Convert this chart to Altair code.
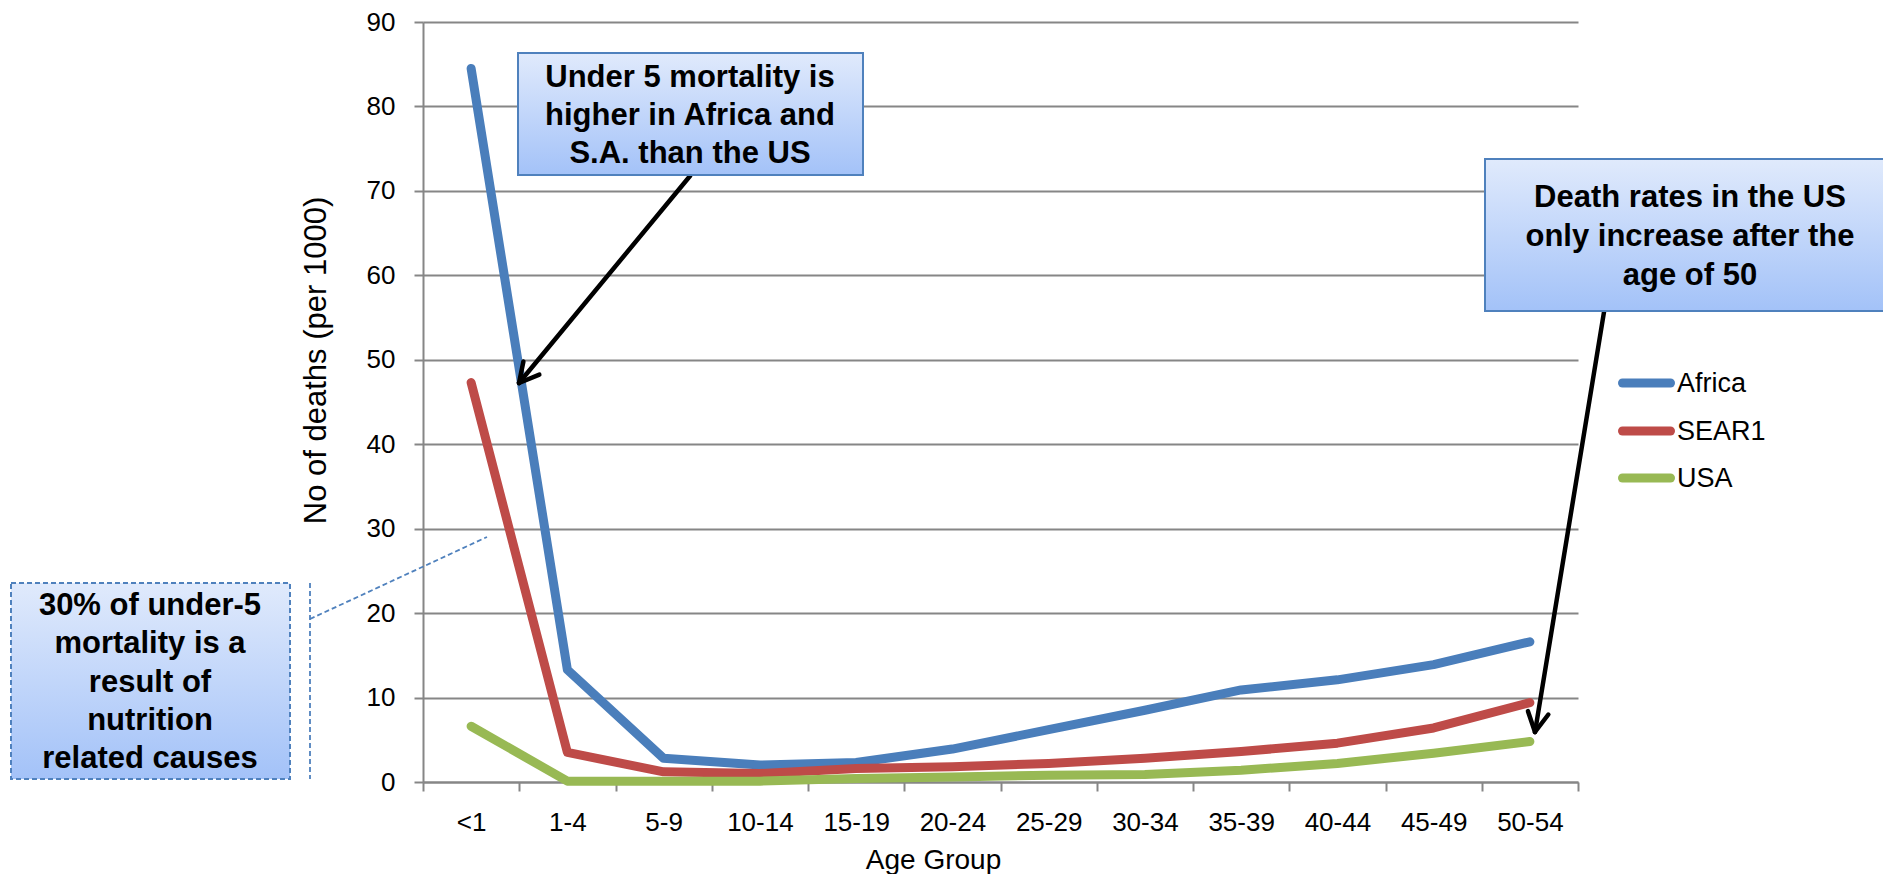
import math
import altair as alt
import pandas as pd

# ---------------- data ----------------
age_groups = ["<1", "1-4", "5-9", "10-14", "15-19", "20-24", "25-29",
              "30-34", "35-39", "40-44", "45-49", "50-54"]
africa = [84.5, 13.3, 2.8, 2.0, 2.3, 3.9, 6.2, 8.5, 10.9, 12.1, 13.9, 16.6]
sear1 = [47.3, 3.5, 1.2, 1.0, 1.6, 1.8, 2.2, 2.8, 3.6, 4.6, 6.4, 9.4]
usa = [6.6, 0.1, 0.1, 0.1, 0.4, 0.6, 0.8, 0.9, 1.4, 2.2, 3.4, 4.8]
series_names = ["Africa", "SEAR1", "USA"]
series_colors = ["#4A7EBB", "#BE4B48", "#98B954"]

y_ticks = [0, 10, 20, 30, 40, 50, 60, 70, 80, 90]

note1 = ["Under 5 mortality is", "higher in Africa and", "S.A. than the US"]
note2 = ["Death rates in the US", "only increase after the", "age of 50"]
note3 = ["30% of under-5", "mortality is a", "result of", "nutrition", "related causes"]

rows = []
for name, vals in zip(series_names, [africa, sear1, usa]):
    for i, (g, v) in enumerate(zip(age_groups, vals)):
        rows.append({"age": g, "deaths": v, "series": name, "order": i})
df = pd.DataFrame(rows)

W, H = 1155, 760
FONT = "Liberation Sans"
GRID = "#868686"

x_enc = alt.X("age:N", sort=age_groups,
              scale=alt.Scale(paddingInner=0, paddingOuter=0),
              axis=alt.Axis(title="Age Group", tickBand="extent", tickSize=9,
                            tickColor=GRID, tickWidth=2, domainColor=GRID,
                            domainWidth=2, labelAngle=0, labelFontSize=26,
                            labelFont=FONT, labelColor="black", labelPadding=18,
                            titleFont=FONT, titleFontSize=28, titleFontWeight="normal",
                            titleColor="black", titleX=510, titleY=86,
                            titleAlign="center", titleBaseline="alphabetic",
                            grid=False))
y_enc = alt.Y("deaths:Q",
              scale=alt.Scale(domain=[0, 90], nice=False),
              axis=alt.Axis(title="No of deaths (per 1000)", values=y_ticks,
                            grid=True, gridColor=GRID, gridWidth=2,
                            domainColor=GRID, domainWidth=2, tickColor=GRID,
                            tickWidth=2, tickSize=9, labelFontSize=26,
                            labelFont=FONT, labelColor="black", labelPadding=19,
                            titleFont=FONT, titleFontSize=31,
                            titleFontWeight="normal", titleColor="black",
                            titleAngle=-90, titleX=-98, titleY=338,
                            titleAlign="center", titleBaseline="alphabetic"))

lines = alt.Chart(df).mark_line(strokeWidth=9, strokeCap="round",
                                strokeJoin="round").encode(
    x=x_enc, y=y_enc,
    color=alt.Color("series:N", scale=alt.Scale(domain=series_names,
                                                range=series_colors),
                    legend=None),
    order="order:Q",
)

one = pd.DataFrame({"k": [0]})

grad = alt.Gradient(gradient="linear",
                    stops=[alt.GradientStop(color="#E0EAFC", offset=0),
                           alt.GradientStop(color="#A3C2F8", offset=1)],
                    x1=0, x2=0, y1=0, y2=1)


def box(x1, y1, x2, y2, dashed=False):
    kw = dict(fill=grad, stroke="#4F81BD", strokeWidth=2)
    if dashed:
        kw["strokeDash"] = [5, 3]
    return alt.Chart(one).mark_rect(**kw).encode(
        x=alt.value(x1), x2=alt.value(x2), y=alt.value(y1), y2=alt.value(y2))


def note(lines_, cx, first_y, lh):
    return alt.Chart(one).mark_text(text=lines_, font=FONT, fontSize=31,
                                    fontWeight="bold", color="black",
                                    align="center", baseline="middle",
                                    lineHeight=lh).encode(
        x=alt.value(cx), y=alt.value(first_y))


def seg(x1, y1, x2, y2, color="black", width=4.5, dash=None):
    kw = dict(color=color, strokeWidth=width, strokeCap="round")
    if dash:
        kw["strokeDash"] = dash
        kw["strokeCap"] = "butt"
    return alt.Chart(one).mark_rule(**kw).encode(
        x=alt.value(x1), y=alt.value(y1), x2=alt.value(x2), y2=alt.value(y2))


def arrow(x1, y1, x2, y2, L=22, ang=28):
    dx, dy = x2 - x1, y2 - y1
    n = math.hypot(dx, dy)
    ux, uy = dx / n, dy / n
    parts = [seg(x1, y1, x2, y2)]
    for s in (1, -1):
        a = math.radians(ang) * s
        rx = ux * math.cos(a) - uy * math.sin(a)
        ry = ux * math.sin(a) + uy * math.cos(a)
        parts.append(seg(x2, y2, x2 - L * rx, y2 - L * ry))
    return parts


layers = [lines]
# annotation 1
layers += arrow(267, 154, 96, 361)
layers += [box(95, 31, 440, 153), note(note1, 267, 56, 38)]
# annotation 2
layers += arrow(1181, 290, 1112, 710)
layers += [box(1062, 137, 1480, 289), note(note2, 1267, 176, 39)]
# annotation 3
layers += [box(-412, 561, -133, 757, dashed=True), note(note3, -273, 584, 38.3)]
layers += [seg(-113, 561, -113, 757, color="#4F81BD", width=1.8, dash=[5, 3]),
           seg(-113, 597, 64, 515, color="#4F81BD", width=1.8, dash=[5, 3])]

# legend
leg_y = [361, 409, 456]
for name, col, yy in zip(series_names, series_colors, leg_y):
    layers.append(alt.Chart(one).mark_rule(color=col, strokeWidth=9,
                                           strokeCap="round").encode(
        x=alt.value(1199.5), x2=alt.value(1247.5), y=alt.value(yy),
        y2=alt.value(yy)))
    layers.append(alt.Chart(one).mark_text(text=name, font=FONT, fontSize=27,
                                           color="black", align="left",
                                           baseline="middle").encode(
        x=alt.value(1254), y=alt.value(yy + 1)))

chart = alt.layer(*layers).properties(
    width=W, height=H,
    autosize=alt.AutoSizeParams(type="none"),
    padding={"left": 415, "top": 14, "right": 305, "bottom": 92},
    background="white",
).configure_view(stroke=None)

chart.save("out.html", embed_options={"renderer": "svg", "actions": False})
